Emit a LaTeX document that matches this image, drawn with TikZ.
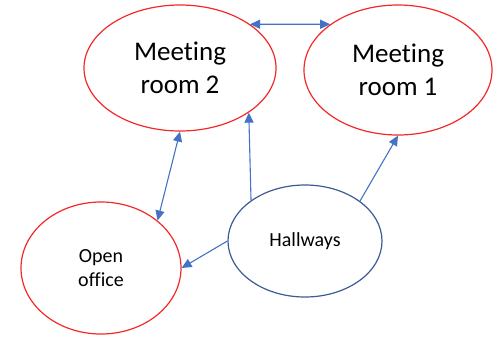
\documentclass[tikz,border=0pt]{standalone}
\usepackage{fontspec}
\setmainfont[Ligatures=NoCommon]{Carlito}
\usetikzlibrary{shapes.geometric,arrows.meta}
\definecolor{roomred}{RGB}{245,40,40}
\definecolor{hallblue}{RGB}{60,90,150}
\definecolor{arrowblue}{RGB}{68,114,196}
\tikzset{
  room/.style={ellipse,draw=roomred,line width=1.2pt,inner sep=0pt,align=center},
  hall/.style={ellipse,draw=hallblue,line width=1.2pt,inner sep=0pt,align=center},
  link/.style={draw=arrowblue,line width=1.1pt},
  tip/.style={-{Triangle[width=9pt,length=10pt]}},
  tips/.style={{Triangle[width=9pt,length=10pt]}-{Triangle[width=9pt,length=10pt]}}
}
\begin{document}
\begin{tikzpicture}[x=1pt,y=-1pt]
\useasboundingbox (0,0) rectangle (502,338);
\node[room,minimum width=192pt,minimum height=126pt,font=\fontsize{27}{33}\selectfont] (mr2) at (180,68) {Meet\kern0pt ing\\room 2};
\node[room,minimum width=188pt,minimum height=130pt,font=\fontsize{27}{33}\selectfont] (mr1) at (398,70) {Meet\kern0pt ing\\room 1};
\node[room,minimum width=160pt,minimum height=132pt,font=\fontsize{20}{24}\selectfont] (oo) at (101,268) {Open\\office};
\node[hall,minimum width=154pt,minimum height=112pt,font=\fontsize{20}{24}\selectfont] (hw) at (305,241) {Hallways};
\draw[link,tips] (mr2.32) -- (mr1.146);
\draw[link,tips] (mr2.-90) -- (oo.40);
\draw[link,tip] (hw.143) -- (mr2.-33);
\draw[link,tip] (hw.36) -- (mr1.-90);
\draw[link,tip] (hw.180) -- (oo.0);
\end{tikzpicture}
\end{document}
